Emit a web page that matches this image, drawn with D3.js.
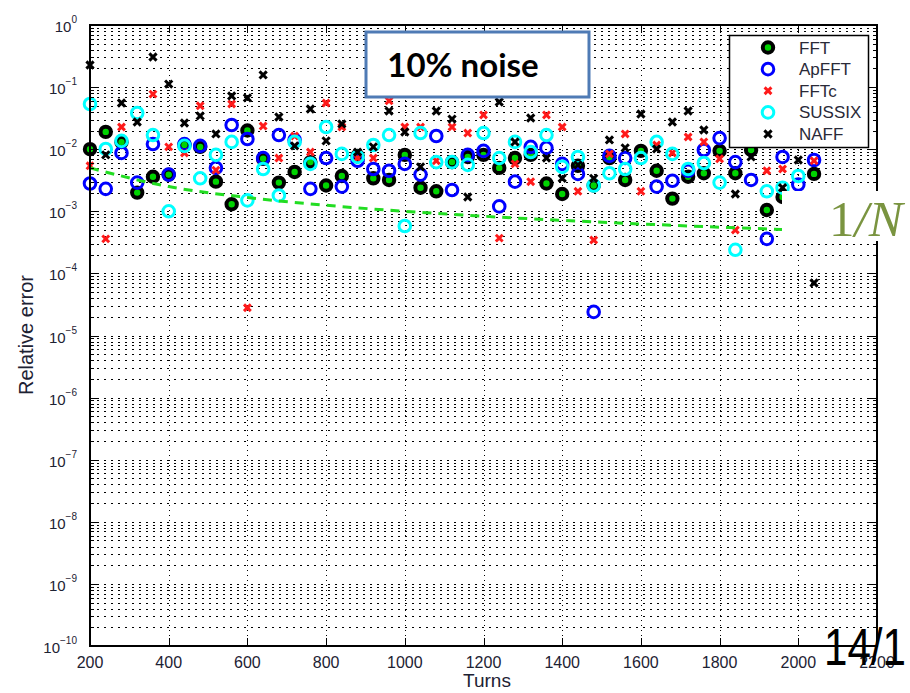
<!DOCTYPE html>
<html>
<head>
<meta charset="UTF-8">
<title>Relative error vs turns, 10% noise</title>
<script src="https://d3js.org/d3.v7.min.js"></script>
<style>
  body { margin: 0; background: #fff; }
  svg { display: block; font-family: "Liberation Sans", Arial, sans-serif; }
</style>
</head>
<body>
<svg width="910" height="693"></svg>
<script>
// turns where each method was evaluated
const turns = [200, 240, 280, 320, 360, 400, 440, 480, 520, 560, 600, 640, 680, 720, 760, 800,
  840, 880, 920, 960, 1000, 1040, 1080, 1120, 1160, 1200, 1240, 1280, 1320, 1360, 1400, 1440,
  1480, 1520, 1560, 1600, 1640, 1680, 1720, 1760, 1800, 1840, 1880, 1920, 1960, 2000, 2040];

// relative error per method (null = not visible in the picture)
const fft = [0.010, 0.019, 0.013, 0.0020, 0.0036, 0.0039, 0.0117, 0.0109, 0.0030, 0.0013, 0.020, 0.0070,
  0.0029, 0.0043, 0.0062, 0.0026, 0.0037, 0.0078, 0.0034, 0.0032, 0.0081, 0.0024, 0.0021, 0.0062,
  0.0075, 0.0081, 0.0050, 0.0072, 0.0081, 0.0028, 0.0019, 0.0054, 0.0026, 0.0072, 0.0032, 0.0094,
  0.0045, 0.0016, 0.0036, 0.0041, 0.0094, 0.0041, 0.0097, 0.00105, 0.0017, null, 0.0040];
const apfft = [0.0028, 0.0023, 0.0087, 0.0029, 0.0121, 0.0039, 0.0121, 0.0113, 0.0050, 0.0245, 0.0146, 0.0072,
  0.0169, 0.0141, 0.0023, 0.0072, 0.0025, 0.0065, 0.0048, 0.0045, 0.0058, 0.0039, 0.0163, 0.0022,
  0.0081, 0.0094, 0.0012, 0.0030, 0.0109, 0.0105, 0.0058, 0.0040, 0.000024, 0.0078, 0.0072, null,
  0.0025, 0.0031, 0.0045, 0.0097, 0.0151, 0.0062, 0.0032, 0.00036, 0.0075, 0.0027, 0.0067];
const fftc = [0.0054, 0.00036, 0.0228, null, 0.077, 0.0109, 0.0087, 0.050, 0.0046, 0.0535, 0.000028, 0.0236,
  0.0072, 0.0163, 0.0090, 0.0555, 0.0228, 0.0072, 0.0072, 0.060, 0.0228, 0.0228, 0.0065, 0.0228,
  0.0182, 0.0356, 0.00037, 0.0058, 0.0030, 0.0356, 0.0228, 0.0021, 0.000345, 0.0084, 0.0176, 0.0021,
  0.0117, 0.0087, 0.0157, 0.0131, 0.0070, 0.0005, null, 0.0045, 0.0048, null, 0.0065];
const sussix = [0.0535, 0.0101, 0.0136, 0.0383, 0.0169, 0.0010, 0.0113, 0.0034, 0.0081, 0.0131, 0.0015, 0.0048,
  0.0018, 0.0131, 0.0058, 0.0228, 0.0084, 0.0075, 0.0117, 0.0169, 0.00058, 0.0182, 0.0062, 0.0062,
  0.0056, 0.0182, 0.0072, 0.0131, 0.0090, 0.0169, 0.0052, 0.0075, 0.0026, 0.0041, 0.0048, 0.0072,
  0.0131, 0.0084, 0.0048, 0.0060, 0.0029, 0.00024, null, 0.0021, 0.0024, 0.0037, null];
const naff = [0.227, 0.0081, 0.0555, 0.0274, 0.305, 0.112, 0.0264, 0.0343, 0.0176, 0.072, 0.067, 0.157,
  0.033, 0.0113, 0.0444, 0.0136, 0.0255, 0.0090, 0.0109, 0.0412, 0.0189, 0.0052, 0.0412, 0.0306,
  0.0017, null, 0.0576, 0.0131, 0.0318, 0.0072, 0.0034, 0.0056, 0.0034, 0.0141, 0.0105, 0.0369,
  0.0101, 0.0274, 0.0412, 0.0204, null, 0.0019, 0.0075, null, 0.0024, 0.0067, 0.00007];

// 1/N reference line, drawn at these turns
const refTurns = [200, 400, 600, 800, 1000, 1200, 1400, 1600, 1800, 2040];

const xTicks = [200, 400, 600, 800, 1000, 1200, 1400, 1600, 1800, 2000, 2200];
const yDecades = [0, -1, -2, -3, -4, -5, -6, -7, -8, -9, -10];
const legendNames = ["FFT", "ApFFT", "FFTc", "SUSSIX", "NAFF"];

const svg = d3.select("svg");
const pLeft = 90, pRight = 877, pTop = 25, pBottom = 646;

const x = d3.scaleLinear().domain([200, 2200]).range([pLeft, pRight]);
const y = d3.scaleLog().domain([1e-10, 1]).range([pBottom, pTop]);

svg.append("rect").attr("width", 910).attr("height", 693).attr("fill", "#fff");

// grid: every decade and every minor step, all dotted
const minorVals = [];
yDecades.forEach(k => {
  if (k === 0) return;
  for (let m = 1; m <= 9; m++) minorVals.push(m * Math.pow(10, k));
});
minorVals.push(1);

const grid = svg.append("g").attr("stroke", "#000").attr("stroke-width", 1)
  .attr("fill", "none").attr("shape-rendering", "crispEdges");
grid.selectAll("line.h").data(minorVals).join("line")
  .attr("class", "h")
  .attr("x1", pLeft).attr("x2", pRight)
  .attr("y1", d => Math.round(y(d)) + 0.5).attr("y2", d => Math.round(y(d)) + 0.5)
  .attr("stroke-dasharray", "2,5");
grid.selectAll("line.v").data(xTicks.slice(1, -1)).join("line")
  .attr("class", "v")
  .attr("x1", d => Math.round(x(d)) + 0.5).attr("x2", d => Math.round(x(d)) + 0.5)
  .attr("y1", pTop).attr("y2", pBottom)
  .attr("stroke-dasharray", "1,4");

// markers
function cross(sel, half, color) {
  sel.append("path")
    .attr("d", `M${-half},${-half}L${half},${half}M${-half},${half}L${half},${-half}`)
    .attr("stroke", color).attr("stroke-width", 3).attr("fill", "none");
}
const styles = {
  FFT: g => g.append("circle").attr("r", 5.2).attr("fill", "#00d400").attr("stroke", "#000").attr("stroke-width", 4),
  ApFFT: g => g.append("circle").attr("r", 5.8).attr("fill", "none").attr("stroke", "#0000ff").attr("stroke-width", 3),
  FFTc: g => cross(g, 3.4, "#ff1a1a"),
  SUSSIX: g => g.append("circle").attr("r", 5.8).attr("fill", "none").attr("stroke", "#00ffff").attr("stroke-width", 3),
  NAFF: g => cross(g, 3.6, "#000")
};
const series = [["FFT", fft], ["ApFFT", apfft], ["FFTc", fftc], ["SUSSIX", sussix], ["NAFF", naff]];

series.forEach(([name, vals]) => {
  const pts = turns.map((t, i) => ({ t, v: vals[i] })).filter(d => d.v != null);
  svg.append("g").selectAll("g").data(pts).join("g")
    .attr("transform", d => `translate(${x(d.t)},${y(d.v)})`)
    .each(function () { styles[name](d3.select(this)); });
});

// 1/N dashed line
svg.append("path")
  .datum(refTurns)
  .attr("d", d3.line().x(d => x(d)).y(d => y(1 / d)).curve(d3.curveMonotoneX))
  .attr("fill", "none").attr("stroke", "#22dd22").attr("stroke-width", 3)
  .attr("stroke-dasharray", "9,7");

// axes box and ticks
const ax = svg.append("g").attr("stroke", "#000").attr("shape-rendering", "crispEdges");
ax.append("rect").attr("x", pLeft).attr("y", pTop).attr("width", pRight - pLeft).attr("height", pBottom - pTop)
  .attr("fill", "none").attr("stroke-width", 1.5);
xTicks.forEach(t => {
  const px = Math.round(x(t)) + 0.5;
  ax.append("line").attr("x1", px).attr("x2", px).attr("y1", pBottom).attr("y2", pBottom - 8);
  ax.append("line").attr("x1", px).attr("x2", px).attr("y1", pTop).attr("y2", pTop + 8);
});
minorVals.forEach(v => {
  const py = Math.round(y(v)) + 0.5;
  const major = Math.abs(Math.log10(v) - Math.round(Math.log10(v))) < 1e-9;
  const len = major ? 8 : 4;
  ax.append("line").attr("x1", pLeft).attr("x2", pLeft + len).attr("y1", py).attr("y2", py);
  ax.append("line").attr("x1", pRight).attr("x2", pRight - len).attr("y1", py).attr("y2", py);
});

// tick labels
const labColor = "#1d2233";
svg.append("g").selectAll("text").data(xTicks).join("text")
  .attr("x", d => x(d)).attr("y", 668)
  .attr("text-anchor", "middle").attr("font-size", 16).attr("fill", labColor)
  .text(d => d);

const yl = svg.append("g").selectAll("text").data(yDecades).join("text")
  .attr("x", 77).attr("y", d => y(Math.pow(10, d)) + 7)
  .attr("text-anchor", "end").attr("font-size", 15).attr("fill", labColor);
yl.append("tspan").text("10");
yl.append("tspan").attr("dy", -9).attr("font-size", 10).text(d => d === 0 ? "0" : "\u2212" + (-d));

svg.append("text").attr("x", 487).attr("y", 687).attr("text-anchor", "middle")
  .attr("font-size", 19).attr("fill", labColor).text("Turns");
svg.append("text").attr("transform", "translate(33,335) rotate(-90)").attr("text-anchor", "middle")
  .attr("font-size", 20).attr("fill", labColor).text("Relative error");

// legend
const lg = svg.append("g");
lg.append("rect").attr("x", 729.5).attr("y", 35.5).attr("width", 139).attr("height", 112)
  .attr("fill", "#fff").attr("stroke", "#000").attr("stroke-width", 1.5);
const legendY = d3.scalePoint().domain(legendNames).range([47.5, 134]);
legendNames.forEach(name => {
  const g = lg.append("g").attr("transform", `translate(768,${legendY(name)})`);
  styles[name](g);
  lg.append("text").attr("x", 799).attr("y", legendY(name) + 6)
    .attr("font-size", 17).attr("fill", "#2a2a38").text(name);
});

// "10% noise" call-out
svg.append("rect").attr("x", 366).attr("y", 32).attr("width", 223).attr("height", 65)
  .attr("fill", "#fff").attr("stroke", "#4f7bb5").attr("stroke-width", 3);
svg.append("text").attr("x", 463).attr("y", 77).attr("text-anchor", "middle")
  .attr("font-family", "Lato, 'Open Sans', sans-serif").attr("font-weight", "bold")
  .attr("font-size", 33).attr("fill", "#000").text("10% noise");

// 1/N label on a white patch
svg.append("rect").attr("x", 782).attr("y", 191).attr("width", 128).attr("height", 50).attr("fill", "#fff");
const nl = svg.append("text").attr("x", 829).attr("y", 236)
  .attr("font-family", "'Liberation Serif', 'DejaVu Serif', serif").attr("font-size", 51)
  .attr("fill", "#7a9440");
nl.append("tspan").text("1");
nl.append("tspan").attr("font-style", "italic").text("/N");

// slide number
svg.append("text").attr("x", 824).attr("y", 665)
  .attr("font-family", "'Liberation Sans', sans-serif")
  .attr("textLength", 82).attr("lengthAdjust", "spacingAndGlyphs")
  .attr("font-size", 52).attr("fill", "#000").text("14/1");
</script>
</body>
</html>
